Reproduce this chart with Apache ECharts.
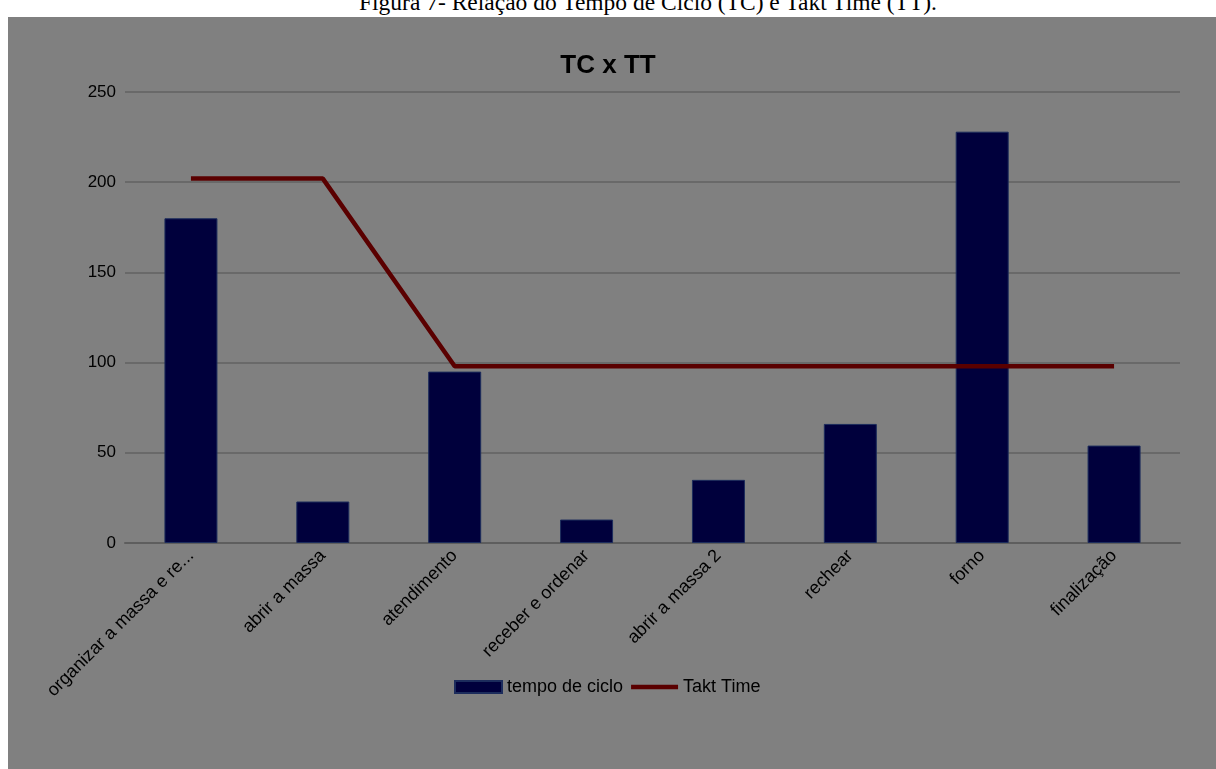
<!DOCTYPE html>
<html>
<head>
<meta charset="utf-8">
<script src="https://cdn.jsdelivr.net/npm/echarts@6/dist/echarts.min.js"></script>
<style>
html,body{margin:0;padding:0;background:#fff;width:1216px;height:769px;overflow:hidden;}
#caption{position:absolute;left:80px;width:1136px;top:-10px;text-align:center;font-family:"Liberation Serif","DejaVu Serif",serif;font-size:23.5px;line-height:24px;color:#000;}
#box{position:absolute;left:8px;top:17px;width:1208px;height:752px;background:#808080;}
#chart{position:absolute;left:0;top:0;width:1216px;height:769px;}
</style>
</head>
<body>
<div id="caption">Figura 7- Relação do Tempo de Ciclo (TC) e Takt Time (TT).</div>
<div id="box"></div>
<div id="chart"></div>
<script>
const categories = ["organizar a massa e re...", "abrir a massa", "atendimento", "receber e ordenar", "abrir a massa 2", "rechear", "forno", "finalização"];
const tempoDeCiclo = [180, 23, 95, 13, 35, 66, 228, 54];
const taktTime = [202, 202, 98, 98, 98, 98, 98, 98];
const yTicks = [0, 50, 100, 150, 200, 250];

const FONT = 'Liberation Sans, Arial, sans-serif';
const chart = echarts.init(document.getElementById('chart'), null, {renderer: 'canvas'});
chart.setOption({
  backgroundColor: 'transparent',
  animation: false,
  title: {
    text: 'TC x TT', left: 603, top: 48, textAlign: 'center',
    textStyle: {fontFamily: FONT, fontSize: 26, fontWeight: 'bold', color: '#000'}
  },
  legend: {
    top: 673, left: 449,
    itemWidth: 47, itemHeight: 12, itemGap: 8,
    textStyle: {fontFamily: FONT, fontSize: 18, color: '#000'},
    data: [
      {name: 'tempo de ciclo', icon: 'rect'},
      {name: 'Takt Time', icon: 'path://M0,0 L48,0 L48,4.5 L0,4.5 Z'}
    ]
  },
  grid: {left: 125, right: 36, top: 92, bottom: 226, containLabel: false},
  xAxis: {
    type: 'category', data: categories,
    axisTick: {show: false},
    axisLine: {lineStyle: {color: '#5e5e5e', width: 2}},
    axisLabel: {interval: 0, rotate: 45, margin: 10, fontFamily: FONT, fontSize: 18, color: '#000'}
  },
  yAxis: {
    type: 'value', min: 0, max: 250, interval: 50,
    axisLine: {show: false}, axisTick: {show: false},
    splitLine: {lineStyle: {color: '#626262', width: 1.5}},
    axisLabel: {margin: 9, fontFamily: FONT, fontSize: 17, color: '#000',
      formatter: v => yTicks.includes(v) ? String(v) : ''}
  },
  series: [
    {name: 'tempo de ciclo', type: 'bar', data: tempoDeCiclo, barWidth: 53,
      itemStyle: {color: '#00003c', borderColor: '#1c2c5c', borderWidth: 1}},
    {name: 'Takt Time', type: 'line', data: taktTime, symbol: 'none', showSymbol: false,
      lineStyle: {color: '#5a0000', width: 4.5}, itemStyle: {color: '#5a0000'}}
  ]
});
</script>
</body>
</html>
